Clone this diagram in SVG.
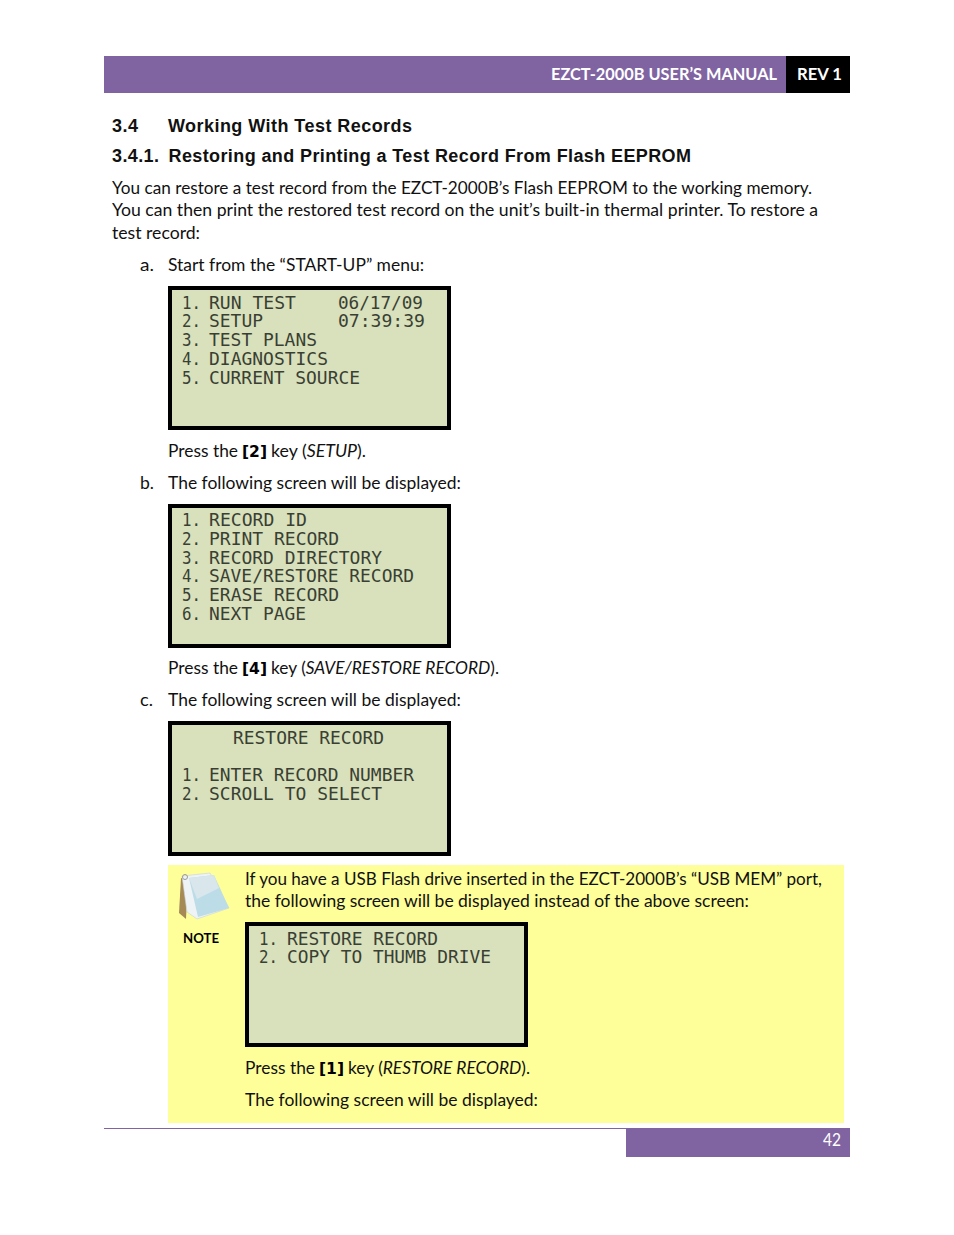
<svg xmlns="http://www.w3.org/2000/svg" width="954" height="1235" viewBox="0 0 954 1235">
<style>
text{white-space:pre}
.b{font-family:Lato,"Open Sans",sans-serif;font-size:17px;fill:#111}
.h{font-family:"Liberation Sans",Arial,sans-serif;font-size:18px;font-weight:700;fill:#111}
.k{font-family:"DejaVu Sans",sans-serif;font-weight:700;font-size:16px}
.lcd{fill:#d8e1bb;stroke:#000;stroke-width:4}
.m{font-family:"DejaVu Sans Mono",monospace;font-size:18px;fill:#3a3f34}
</style>
<rect width="954" height="1235" fill="#fff"/>
<g id="header">
<rect x="104" y="56" width="682" height="37" fill="#8064a2"/>
<rect x="786" y="56" width="64" height="37" fill="#000"/>
<text x="551" y="80" textLength="226" lengthAdjust="spacingAndGlyphs" font-family="Lato,sans-serif" font-weight="700" font-size="17.5" fill="#fff">EZCT-2000B USER’S MANUAL</text>
<text x="797" y="80" textLength="45" lengthAdjust="spacingAndGlyphs" font-family="Lato,sans-serif" font-weight="700" font-size="17.5" fill="#fff">REV 1</text>
</g>
<g id="headings">
<text class="h" x="112" y="132" textLength="26">3.4</text>
<text class="h" x="168" y="132" textLength="244">Working With Test Records</text>
<text class="h" x="112" y="162" textLength="47">3.4.1.</text>
<text class="h" x="168.500" y="162" textLength="522.500">Restoring and Printing a Test Record From Flash EEPROM</text>
</g>
<g id="body">
<text class="b" x="112" y="194" textLength="700" lengthAdjust="spacingAndGlyphs">You can restore a test record from the EZCT-2000B’s Flash EEPROM to the working memory.</text>
<text class="b" x="112" y="216" textLength="706" lengthAdjust="spacingAndGlyphs">You can then print the restored test record on the unit’s built-in thermal printer. To restore a</text>
<text class="b" x="112" y="239" textLength="88" lengthAdjust="spacingAndGlyphs">test record:</text>
<text class="b" x="140" y="271" textLength="14" lengthAdjust="spacingAndGlyphs">a.</text>
<text class="b" x="168" y="271" textLength="256" lengthAdjust="spacingAndGlyphs">Start from the “START-UP” menu:</text>
<text class="b" x="168" y="457" textLength="70" lengthAdjust="spacingAndGlyphs">Press the</text><text class="k" x="242" y="457" textLength="25" lengthAdjust="spacingAndGlyphs">[2]</text><text class="b" x="271" y="457" textLength="95" lengthAdjust="spacingAndGlyphs">key (<tspan font-style="italic">SETUP</tspan>).</text>
<text class="b" x="140" y="489" textLength="14" lengthAdjust="spacingAndGlyphs">b.</text>
<text class="b" x="168" y="489" textLength="293" lengthAdjust="spacingAndGlyphs">The following screen will be displayed:</text>
<text class="b" x="168" y="674" textLength="70" lengthAdjust="spacingAndGlyphs">Press the</text><text class="k" x="242" y="674" textLength="25" lengthAdjust="spacingAndGlyphs">[4]</text><text class="b" x="271" y="674" textLength="228" lengthAdjust="spacingAndGlyphs">key (<tspan font-style="italic">SAVE/RESTORE RECORD</tspan>).</text>
<text class="b" x="140" y="706" textLength="13" lengthAdjust="spacingAndGlyphs">c.</text>
<text class="b" x="168" y="706" textLength="293" lengthAdjust="spacingAndGlyphs">The following screen will be displayed:</text>
</g>
<g id="screen-startup">
<rect class="lcd" x="170" y="288" width="279" height="140"/>
<text class="m" x="182" y="309" textLength="19" lengthAdjust="spacingAndGlyphs">1.</text><text class="m" x="209" y="309" textLength="87" lengthAdjust="spacingAndGlyphs">RUN TEST</text><text class="m" x="338" y="309" textLength="85" lengthAdjust="spacingAndGlyphs">06/17/09</text>
<text class="m" x="182" y="327" textLength="19" lengthAdjust="spacingAndGlyphs">2.</text><text class="m" x="209" y="327" textLength="54" lengthAdjust="spacingAndGlyphs">SETUP</text><text class="m" x="338" y="327" textLength="87" lengthAdjust="spacingAndGlyphs">07:39:39</text>
<text class="m" x="182" y="346" textLength="19" lengthAdjust="spacingAndGlyphs">3.</text><text class="m" x="209" y="346" textLength="108" lengthAdjust="spacingAndGlyphs">TEST PLANS</text>
<text class="m" x="182" y="365" textLength="19" lengthAdjust="spacingAndGlyphs">4.</text><text class="m" x="209" y="365" textLength="119" lengthAdjust="spacingAndGlyphs">DIAGNOSTICS</text>
<text class="m" x="182" y="384" textLength="19" lengthAdjust="spacingAndGlyphs">5.</text><text class="m" x="209" y="384" textLength="151" lengthAdjust="spacingAndGlyphs">CURRENT SOURCE</text>
</g>
<g id="screen-setup">
<rect class="lcd" x="170" y="506" width="279" height="140"/>
<text class="m" x="182" y="526" textLength="19" lengthAdjust="spacingAndGlyphs">1.</text><text class="m" x="209" y="526" textLength="98" lengthAdjust="spacingAndGlyphs">RECORD ID</text>
<text class="m" x="182" y="545" textLength="19" lengthAdjust="spacingAndGlyphs">2.</text><text class="m" x="209" y="545" textLength="130" lengthAdjust="spacingAndGlyphs">PRINT RECORD</text>
<text class="m" x="182" y="564" textLength="19" lengthAdjust="spacingAndGlyphs">3.</text><text class="m" x="209" y="564" textLength="173" lengthAdjust="spacingAndGlyphs">RECORD DIRECTORY</text>
<text class="m" x="182" y="582" textLength="19" lengthAdjust="spacingAndGlyphs">4.</text><text class="m" x="209" y="582" textLength="205" lengthAdjust="spacingAndGlyphs">SAVE/RESTORE RECORD</text>
<text class="m" x="182" y="601" textLength="19" lengthAdjust="spacingAndGlyphs">5.</text><text class="m" x="209" y="601" textLength="130" lengthAdjust="spacingAndGlyphs">ERASE RECORD</text>
<text class="m" x="182" y="620" textLength="19" lengthAdjust="spacingAndGlyphs">6.</text><text class="m" x="209" y="620" textLength="97" lengthAdjust="spacingAndGlyphs">NEXT PAGE</text>
</g>
<g id="screen-restore">
<rect class="lcd" x="170" y="723" width="279" height="131"/>
<text class="m" x="233" y="744" textLength="151" lengthAdjust="spacingAndGlyphs">RESTORE RECORD</text>
<text class="m" x="182" y="781" textLength="19" lengthAdjust="spacingAndGlyphs">1.</text><text class="m" x="209" y="781" textLength="205" lengthAdjust="spacingAndGlyphs">ENTER RECORD NUMBER</text>
<text class="m" x="182" y="800" textLength="19" lengthAdjust="spacingAndGlyphs">2.</text><text class="m" x="209" y="800" textLength="173" lengthAdjust="spacingAndGlyphs">SCROLL TO SELECT</text>
</g>
<g id="note">
<rect x="168" y="865" width="676" height="258" fill="#ffff99"/>
<g id="note-icon">
<path d="M181 878 L179 913 L186 919 L188 880Z" fill="#a58a55"/>
<path d="M182 876 L210 873 L229 908 L197 919 L187 912Z" fill="#eef3f6" stroke="#c8d2d8" stroke-width=".6"/>
<path d="M189 878 L214 875 L229 908 L198 917Z" fill="#bcdce8"/>
<path d="M189 878 L214 875 L219 888 L197 899Z" fill="#d9e6ec"/>
<circle cx="185" cy="877" r="2.500" fill="none" stroke="#9a9a9a"/>
</g>
<text x="183" y="943" textLength="36" lengthAdjust="spacingAndGlyphs" font-family="Lato,sans-serif" font-weight="700" font-size="14" fill="#000">NOTE</text>
<text class="b" x="245" y="885" textLength="577" lengthAdjust="spacingAndGlyphs">If you have a USB Flash drive inserted in the EZCT-2000B’s “USB MEM” port,</text>
<text class="b" x="245" y="907" textLength="504" lengthAdjust="spacingAndGlyphs">the following screen will be displayed instead of the above screen:</text>
<g id="screen-usb">
<rect class="lcd" x="247" y="924" width="279" height="121"/>
<text class="m" x="259" y="945" textLength="19" lengthAdjust="spacingAndGlyphs">1.</text><text class="m" x="287" y="945" textLength="151" lengthAdjust="spacingAndGlyphs">RESTORE RECORD</text>
<text class="m" x="259" y="963" textLength="19" lengthAdjust="spacingAndGlyphs">2.</text><text class="m" x="287" y="963" textLength="204" lengthAdjust="spacingAndGlyphs">COPY TO THUMB DRIVE</text>
</g>
<text class="b" x="245" y="1074" textLength="70" lengthAdjust="spacingAndGlyphs">Press the</text><text class="k" x="319" y="1074" textLength="25" lengthAdjust="spacingAndGlyphs">[1]</text><text class="b" x="348" y="1074" textLength="182" lengthAdjust="spacingAndGlyphs">key (<tspan font-style="italic">RESTORE RECORD</tspan>).</text>
<text class="b" x="245" y="1106" textLength="293" lengthAdjust="spacingAndGlyphs">The following screen will be displayed:</text>
</g>
<g id="footer">
<rect x="104" y="1128" width="522" height="1" fill="#8064a2"/>
<rect x="626" y="1128" width="224" height="29" fill="#8064a2"/>
<text x="823" y="1146" textLength="18" lengthAdjust="spacingAndGlyphs" font-family="Lato,sans-serif" font-size="17" fill="#fff">42</text>
</g>
</svg>
